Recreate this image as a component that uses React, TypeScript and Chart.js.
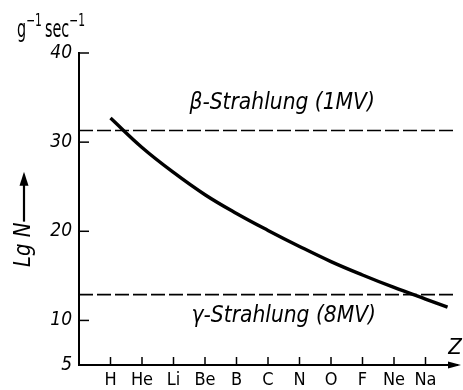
import React, { useEffect, useRef } from "react";
import { Chart, registerables } from "chart.js";

Chart.register(...registerables);

// ---- data ----
const elements = ["H", "He", "Li", "Be", "B", "C", "N", "O", "F", "Ne", "Na"];
const curveX = [1, 2, 3, 4, 5, 6, 7, 8, 9, 10, 11, 11.7];
const curveY = [32.7, 29.4, 26.6, 24.1, 22.0, 20.1, 18.3, 16.6, 15.1, 13.7, 12.4, 11.5];
const yTicks = [5, 10, 20, 30, 40];
const betaLevel = 31.3;
const gammaLevel = 12.9;
const lineSpan = [0, 12];
const betaLabel = "β-Strahlung (1MV)";
const gammaLabel = "γ-Strahlung (8MV)";
const betaLabelPos = [6.45, 34.4];
const gammaLabelPos = [6.5, 10.5];
const yTitle = "Lg N";
const xTitle = "Z";

const FONT = "'DejaVu Sans Condensed', 'Liberation Sans Narrow', 'DejaVu Sans', sans-serif";

function squeezedText(ctx: CanvasRenderingContext2D, text: string, x: number, y: number, sx: number) {
  ctx.save();
  ctx.translate(x, y);
  ctx.scale(sx, 1);
  ctx.fillText(text, 0, 0);
  ctx.restore();
}

const decoPlugin = {
  id: "deco",
  afterDraw(chart: any) {
    const ctx: CanvasRenderingContext2D = chart.ctx;
    const xs = chart.scales.x;
    const ys = chart.scales.y;
    ctx.save();
    ctx.strokeStyle = "#000";
    ctx.fillStyle = "#000";
    ctx.lineWidth = 1.5;
    // inward y ticks
    yTicks.forEach((v) => {
      if (v === yTicks[0]) return;
      const py = ys.getPixelForValue(v);
      ctx.beginPath();
      ctx.moveTo(xs.left, py);
      ctx.lineTo(xs.left + 10, py);
      ctx.stroke();
    });
    // inward x ticks
    elements.forEach((_, i) => {
      const px = xs.getPixelForValue(i + 1);
      ctx.beginPath();
      ctx.moveTo(px, ys.bottom);
      ctx.lineTo(px, ys.bottom - 8);
      ctx.stroke();
    });
    // x-axis arrow head
    const ax = xs.right;
    const ay = ys.bottom;
    ctx.beginPath();
    ctx.moveTo(ax + 4, ay);
    ctx.lineTo(ax - 9, ay - 3.5);
    ctx.lineTo(ax - 9, ay + 3.5);
    ctx.closePath();
    ctx.fill();

    // Z label
    ctx.font = `italic 22px ${FONT}`;
    ctx.textAlign = "center";
    ctx.textBaseline = "middle";
    ctx.fillText(xTitle, ax - 2, ay - 17);

    // annotations
    ctx.font = `italic 23px ${FONT}`;
    squeezedText(ctx, betaLabel, xs.getPixelForValue(betaLabelPos[0]), ys.getPixelForValue(betaLabelPos[1]), 0.98);
    squeezedText(ctx, gammaLabel, xs.getPixelForValue(gammaLabelPos[0]), ys.getPixelForValue(gammaLabelPos[1]), 0.98);

    // unit label top-left
    ctx.textAlign = "left";
    ctx.textBaseline = "alphabetic";
    let cx = 17;
    const base = 37;
    const parts: [string, boolean][] = [["g", false], ["−1", true], ["sec", false], ["−1", true]];
    parts.forEach(([t, sup]) => {
      const sx = sup ? 0.7 : 0.64;
      ctx.font = sup ? `17px ${FONT}` : `25px ${FONT}`;
      squeezedText(ctx, t, cx, sup ? base - 11 : base, sx);
      cx += ctx.measureText(t).width * sx + (sup ? 3 : 0);
    });

    // y title rotated with arrow
    ctx.save();
    ctx.translate(24, 267);
    ctx.rotate(-Math.PI / 2);
    ctx.font = `italic 23px ${FONT}`;
    ctx.textAlign = "left";
    ctx.textBaseline = "middle";
    ctx.save();
    ctx.scale(0.95, 1);
    ctx.fillText(yTitle, 0, 0);
    ctx.restore();
    const w = ctx.measureText(yTitle).width * 0.95;
    ctx.lineWidth = 2.2;
    ctx.beginPath();
    ctx.moveTo(w + 1, 0);
    ctx.lineTo(w + 40, 0);
    ctx.stroke();
    ctx.beginPath();
    ctx.moveTo(w + 51, 0);
    ctx.lineTo(w + 37, -4.5);
    ctx.lineTo(w + 37, 4.5);
    ctx.closePath();
    ctx.fill();
    ctx.restore();

    ctx.restore();
  },
};

export default function App() {
  const ref = useRef<HTMLCanvasElement>(null);
  useEffect(() => {
    if (!ref.current) return;
    const chart = new Chart(ref.current, {
      type: "line",
      data: {
        datasets: [
          {
            data: curveX.map((x, i) => ({ x, y: curveY[i] })),
            borderColor: "#000",
            borderWidth: 3.4,
            pointRadius: 0,
            tension: 0.4,
          },
          {
            data: lineSpan.map((x) => ({ x, y: betaLevel })),
            borderColor: "#000",
            borderWidth: 1.6,
            borderDash: [14, 4],
            pointRadius: 0,
          },
          {
            data: lineSpan.map((x) => ({ x, y: gammaLevel })),
            borderColor: "#000",
            borderWidth: 1.6,
            borderDash: [14, 4],
            pointRadius: 0,
          },
        ],
      } as any,
      options: {
        animation: false,
        responsive: false,
        maintainAspectRatio: false,
        layout: { padding: { left: 0, top: 53, right: 6, bottom: 0 } },
        plugins: { legend: { display: false }, tooltip: { enabled: false } },
        scales: {
          x: {
            type: "linear",
            min: lineSpan[0],
            max: lineSpan[1],
            grid: { display: false, drawTicks: false },
            border: { display: true, color: "#000", width: 2 },
            afterBuildTicks: (s: any) => {
              s.ticks = elements.map((_, i) => ({ value: i + 1 }));
            },
            afterFit: (s: any) => {
              s.height = 25;
            },
            ticks: {
              color: "#000",
              padding: 5,
              autoSkip: false,
              maxRotation: 0,
              font: { family: FONT, size: 18 },
              callback: (v: any) => elements[Number(v) - 1] ?? "",
            },
          },
          y: {
            type: "linear",
            min: yTicks[0],
            max: yTicks[yTicks.length - 1],
            grid: { display: false, drawTicks: false },
            border: { display: true, color: "#000", width: 2 },
            afterBuildTicks: (s: any) => {
              s.ticks = yTicks.map((v) => ({ value: v }));
            },
            afterFit: (s: any) => {
              s.width = 79;
            },
            ticks: {
              color: "#000",
              padding: 7,
              font: { family: FONT, size: 19, style: "italic" },
            },
          },
        },
      } as any,
      plugins: [decoPlugin],
    });
    return () => chart.destroy();
  }, []);
  return (
    <div style={{ position: "fixed", left: 0, top: 0, width: 463, height: 390, background: "#fff" }}>
      <canvas ref={ref} width={463} height={390} />
    </div>
  );
}
